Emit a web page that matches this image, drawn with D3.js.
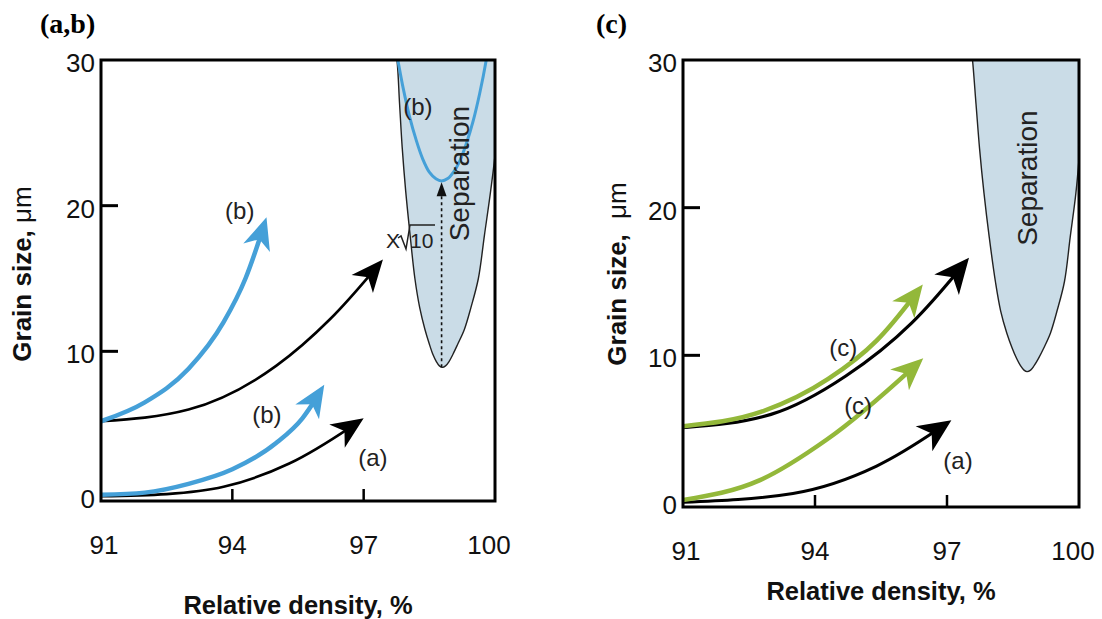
<!DOCTYPE html>
<html><head><meta charset="utf-8">
<script src="https://cdn.jsdelivr.net/npm/d3@7"></script>
<style>body{margin:0;background:#fff;} svg{display:block;font-family:"Liberation Sans",Arial,sans-serif;}</style>
</head><body>
<svg id="c" width="1102" height="619"></svg>
<script>
// ---------- data ----------
const xTicks = [91, 94, 97, 100];
const yTicks = [0, 10, 20, 30];
const xDomain = [91, 100];
const yDomain = [0, 30];
const xTitle = "Relative density, %";
const yTitleBold = "Grain size, ";
const yTitleUnit = "\u03bcm";

// panel (a,b)
const abBlackLower = [[91,0.05],[92.5,0.2],[93.8,0.7],[95.3,2.3],[97.0,5.4]];
const abBlueLower  = [[91,0.15],[92,0.3],[93,0.9],[94,1.9],[95,3.7],[95.6,5.4],[96.1,7.7]];
const abBlackUpper = [[91,5.2],[93.0,6.0],[95.0,9.0],[96.23,12.2],[97.44,16.3]];
const abBlueUpper  = [[91,5.2],[92,6.5],[93,8.8],[93.8,12.0],[94.3,15.0],[94.78,19.2]];
const sepOutline   = [[97.7,31],[97.76,30],[97.82,27],[97.88,24],[97.96,21],[98.06,18],[98.17,15],[98.28,13],[98.4,11.5],[98.5,10.5],[98.58,9.8],[98.66,9.3],[98.73,9.0],[98.8,8.9],
                      [98.87,9.0],[98.95,9.3],[99.04,9.8],[99.15,10.5],[99.3,11.5],[99.45,13],[99.62,15],[99.76,18],[99.9,21],[100.02,24],[100.2,31]];
const sepOutlineC  = [[97.54,31],[97.58,30],[97.66,27],[97.74,24],[97.84,21],[97.96,18],[98.1,15],[98.22,13],[98.36,11.5],[98.48,10.5],[98.58,9.8],[98.67,9.3],[98.75,9.0],[98.82,8.9],
                      [98.9,9.0],[98.98,9.3],[99.08,9.8],[99.2,10.5],[99.35,11.5],[99.5,13],[99.67,15],[99.8,18],[99.93,21],[100.02,24],[100.2,31]];
const abBlueSep    = [[97.74,30.6],[97.78,30],[97.9,28.1],[98.05,26.1],[98.2,24.5],[98.35,23.2],[98.5,22.3],[98.65,21.85],[98.78,21.7],[98.92,21.86],[99.06,22.34],[99.2,23.1],[99.35,24.3],[99.5,25.8],[99.65,27.7],[99.8,30.0],[99.83,30.6]];
const abDashed     = [[98.78,8.9],[98.78,21.6]];
const abLabels = [
  {t:"(b)", x:94.17, y:19.66},
  {t:"(b)", x:94.79, y:5.66},
  {t:"(a)", x:97.21, y:2.69},
  {t:"(b)", x:98.24, y:26.8}
];
// panel (c)
const cBlackLower = [[91,0.05],[93.5,0.65],[95.4,2.5],[97.1,5.6]];
const cGreenLower = [[91,0.2],[92.75,1.55],[94.27,4.3],[96.46,9.8]];
const cBlackUpper = [[91,5.1],[93.0,6.0],[94.7,8.6],[96.2,12.2],[97.5,16.6]];
const cGreenUpper = [[91,5.2],[92.8,6.2],[94.3,8.4],[95.4,11.0],[96.45,14.8]];
const cLabels = [
  {t:"(c)", x:94.64, y:10.5},
  {t:"(c)", x:94.98, y:6.63},
  {t:"(a)", x:97.25, y:2.9}
];
const sepText = "Separation";

// ---------- drawing ----------
const svg = d3.select("#c");
const defs = svg.append("defs");
const BLUE = "#45a0d8", GREEN = "#93b83a", FILL = "#cadce7", INK = "#111";

function drawArrow(g, pts, x, y, color, sw, hl, hw){
  const line = d3.line().x(d=>x(d[0])).y(d=>y(d[1])).curve(d3.curveMonotoneX);
  const p = g.append("path").attr("d", line(pts)).attr("fill","none")
    .attr("stroke", color).attr("stroke-width", sw);
  const node = p.node(); const L = node.getTotalLength();
  p.attr("stroke-dasharray", `${L - hl*0.5} ${L}`);
  const tip = node.getPointAtLength(L);
  const bk = node.getPointAtLength(Math.max(0, L - hl));
  let dx = tip.x-bk.x, dy = tip.y-bk.y; const d = Math.hypot(dx,dy); dx/=d; dy/=d;
  const nx = -dy, ny = dx;
  const bx = tip.x - dx*hl, by = tip.y - dy*hl;
  const mx = tip.x - dx*hl*0.72, my = tip.y - dy*hl*0.72;
  g.append("path").attr("d",
    `M${tip.x},${tip.y}L${bx+nx*hw},${by+ny*hw}L${mx},${my}L${bx-nx*hw},${by-ny*hw}Z`)
    .attr("fill", color);
}

function panel(cfg){
  const g = svg.append("g");
  const x = d3.scaleLinear().domain(xDomain).range(cfg.xr);
  const y = d3.scaleLinear().domain(yDomain).range(cfg.yr);
  const x0 = x(xDomain[0]), x1 = x(xDomain[1]), yt = y(yDomain[1]), yb = y(0) + 4;
  const cid = "clip" + cfg.id;
  defs.append("clipPath").attr("id", cid).append("rect")
    .attr("x", x0).attr("y", yt).attr("width", x1-x0).attr("height", yb-yt);
  const pg = g.append("g").attr("clip-path", `url(#${cid})`);

  // separation region
  const sepLine = d3.line().x(d=>x(d[0])).y(d=>y(d[1])).curve(d3.curveCatmullRom.alpha(0.5));
  pg.append("path").attr("d", sepLine(cfg.sep) + "Z").attr("fill", FILL).attr("stroke","none");
  pg.append("path").attr("d", sepLine(cfg.sep)).attr("fill","none").attr("stroke","#222").attr("stroke-width",1.4);

  cfg.extra && cfg.extra(pg, x, y);

  // arrows
  cfg.arrows.forEach(a => drawArrow(pg.append("g"), a.pts, x, y, a.color, a.sw, a.hl, a.hw));

  // labels
  cfg.labels.forEach(l => g.append("text").attr("x", x(l.x)).attr("y", y(l.y))
    .attr("text-anchor","middle").attr("dominant-baseline","central")
    .attr("font-size", 24).attr("fill", "#222").text(l.t));

  // separation text
  g.append("text").attr("transform", `translate(${x(cfg.sepTxt[0])},${y(cfg.sepTxt[1])}) rotate(-90)`)
    .attr("text-anchor","middle").attr("dominant-baseline","central")
    .attr("font-size", 28).attr("fill","#222").text(sepText);

  // frame
  g.append("rect").attr("x", x0).attr("y", yt).attr("width", x1-x0).attr("height", yb-yt)
    .attr("fill","none").attr("stroke","#000").attr("stroke-width",3);

  // ticks (inward)
  yTicks.filter(v => v>0 && v<30).forEach(v => g.append("line")
    .attr("x1", x0).attr("x2", x0+17).attr("y1", y(v)).attr("y2", y(v))
    .attr("stroke","#000").attr("stroke-width",3));
  xTicks.filter(v => v>91 && v<100).forEach(v => g.append("line")
    .attr("x1", x(v)).attr("x2", x(v)).attr("y1", yb).attr("y2", yb-12)
    .attr("stroke","#000").attr("stroke-width",2.5));

  // tick labels
  yTicks.forEach(v => g.append("text").attr("x", x0-6).attr("y", y(v)+ (v===0?2:3))
    .attr("text-anchor","end").attr("dominant-baseline","central")
    .attr("font-size",26).attr("fill",INK).text(v));
  xTicks.forEach(v => g.append("text").attr("x", x(v) + (v===91?3:(v===100?-6:0))).attr("y", cfg.xLabY)
    .attr("text-anchor","middle").attr("dominant-baseline","central")
    .attr("font-size",26).attr("fill",INK).text(v));

  // axis titles
  g.append("text").attr("x", (x0+x1)/2).attr("y", cfg.xTitleY)
    .attr("text-anchor","middle").attr("dominant-baseline","central")
    .attr("font-size",25.5).attr("font-weight","bold").attr("fill",INK).text(xTitle);
  const yt2 = g.append("text").attr("transform", `translate(${cfg.yTitleX},${cfg.yTitleY}) rotate(-90)`)
    .attr("text-anchor","middle").attr("dominant-baseline","central")
    .attr("font-size",26).attr("fill",INK);
  yt2.append("tspan").attr("font-weight","bold").text(yTitleBold);
  yt2.append("tspan").attr("dx", cfg.unitGap).text(yTitleUnit);

  // panel label
  svg.append("text").attr("x", cfg.pl[0]).attr("y", cfg.pl[1])
    .attr("font-family","'Liberation Serif','Times New Roman',serif")
    .attr("font-size",28).attr("font-weight","bold").attr("fill","#000").text(cfg.plText);
}

panel({
  id:"ab", xr:[101,495], yr:[497,60], xLabY:545, xTitleY:605, yTitleX:22, yTitleY:274, unitGap:0,
  pl:[40,33], plText:"(a,b)", sep: sepOutline, sepTxt:[99.2,22.2],
  labels: abLabels,
  arrows: [
    {pts:abBlackLower, color:"#000", sw:2.6, hl:32, hw:14},
    {pts:abBlueLower,  color:BLUE,  sw:4.5, hl:32, hw:14},
    {pts:abBlackUpper, color:"#000", sw:2.6, hl:32, hw:14},
    {pts:abBlueUpper,  color:BLUE,  sw:4.5, hl:32, hw:14}
  ],
  extra: (pg, x, y) => {
    const ln = d3.line().x(d=>x(d[0])).y(d=>y(d[1])).curve(d3.curveCatmullRom.alpha(0.5));
    pg.append("path").attr("d", ln(abBlueSep)).attr("fill","none").attr("stroke",BLUE).attr("stroke-width",3);
    const xa = x(abDashed[0][0]), ya = y(abDashed[0][1]), yb2 = y(abDashed[1][1]);
    pg.append("line").attr("x1",xa).attr("x2",xa).attr("y1",ya).attr("y2",yb2+12)
      .attr("stroke","#111").attr("stroke-width",1.6).attr("stroke-dasharray","3,3");
    pg.append("path").attr("d",`M${xa},${yb2}L${xa-5},${yb2+14}L${xa+5},${yb2+14}Z`).attr("fill","#111");
  }
});
// x sqrt(10) annotation
(function(){
  const g = svg.append("g");
  g.append("text").attr("x",386).attr("y",248).attr("font-size",21).attr("fill","#222").text("X");
  g.append("path").attr("d","M398,238 L401,236 L406,249 L410,225 L435,225")
    .attr("fill","none").attr("stroke","#222").attr("stroke-width",1.5);
  g.append("text").attr("x",410).attr("y",248).attr("font-size",21).attr("fill","#222").text("10");
})();

panel({
  id:"c", xr:[683,1079], yr:[503,60], xLabY:551, xTitleY:591, yTitleX:617, yTitleY:274, unitGap:8,
  pl:[596,33], plText:"(c)", sep: sepOutlineC, sepTxt:[98.84,22.0],
  labels: cLabels,
  arrows: [
    {pts:cBlackLower, color:"#000", sw:3, hl:33, hw:15},
    {pts:cGreenLower, color:GREEN, sw:4.5, hl:32, hw:14},
    {pts:cBlackUpper, color:"#000", sw:3.2, hl:35, hw:16},
    {pts:cGreenUpper, color:GREEN, sw:4.5, hl:32, hw:14}
  ]
});
</script>
</body></html>
